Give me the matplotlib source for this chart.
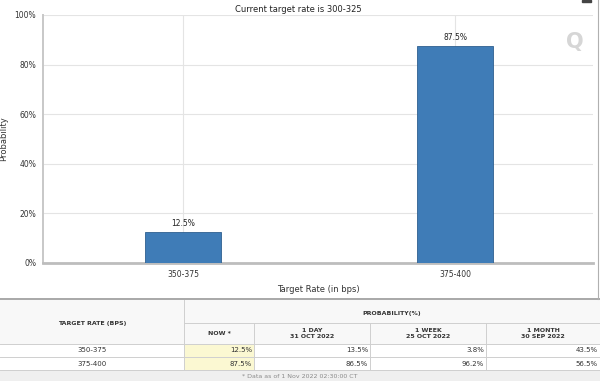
import matplotlib.pyplot as plt
from matplotlib.patches import Rectangle

# data
rates = ['350-375', '375-400']
now = [12.5, 87.5]
one_day = [13.5, 86.5]
one_week = [3.8, 96.2]
one_month = [43.5, 56.5]
col_heads = ['NOW *', '1 DAY\n31 OCT 2022', '1 WEEK\n25 OCT 2022', '1 MONTH\n30 SEP 2022']
yticks = [0, 20, 40, 60, 80, 100]
title = 'Current target rate is 300-325'
footnote = '* Data as of 1 Nov 2022 02:30:00 CT'

W, H = 600, 381
fig = plt.figure(figsize=(6, 3.81), dpi=100)

# pixel-space layer for frame + table
bg = fig.add_axes([0, 0, 1, 1], zorder=0)
bg.set_xlim(0, W)
bg.set_ylim(H, 0)
bg.axis('off')

ax = fig.add_axes([43 / W, 1 - 263 / H, 550 / W, 248 / H], zorder=1)
ax.patch.set_alpha(0)

x = list(range(len(rates)))
ax.bar(x, now, width=0.28, color='#3f7cb7', edgecolor='#2e5f8f', linewidth=0.6, zorder=3)
for i, v in enumerate(now):
    ax.text(i, v + 1.5, f'{v}%', ha='center', va='bottom', fontsize=5.5, color='#222')

ax.set_xlim(-0.515, 1.507)
ax.set_ylim(0, 100)
ax.set_yticks(yticks)
ax.set_yticklabels([f'{t}%' for t in yticks])
ax.set_xticks(x)
ax.set_xticklabels(rates)
ax.tick_params(axis='both', length=0, labelsize=5.5, labelcolor='#333')
ax.tick_params(axis='y', pad=5)
ax.tick_params(axis='x', pad=5)
ax.grid(True, color='#e4e4e4', lw=0.8, zorder=0)
for s in ['top', 'right']:
    ax.spines[s].set_visible(False)
ax.spines['left'].set_color('#c8c8c8')
ax.spines['left'].set_linewidth(1.4)
ax.spines['bottom'].set_color('#bdbdbd')
ax.spines['bottom'].set_linewidth(2)
ax.set_xlabel('Target Rate (in bps)', fontsize=6, color='#333', labelpad=4)
ax.set_ylabel('Probability', fontsize=6, color='#333')
ax.yaxis.set_label_coords(-0.064, 0.5)

fig.text(298 / W, 1 - 9 / H, title, ha='center', va='center', fontsize=6, color='#222')
# watermark Q and menu icon
bg.text(575, 42, 'Q', ha='center', va='center', fontsize=15, fontweight='bold', color='#d6d6d6')
bg.add_patch(Rectangle((582, 0), 9, 2, color='#444'))

# frame
bg.plot([0, W], [298.5, 298.5], color='#9a9a9a', lw=1.2)
bg.plot([598, 598], [0, 298.5], color='#b0b0b0', lw=0.8)

# table
edges = [0, 184, 254, 370, 486, 600]
rows = [344, 357, 370]
bg.add_patch(Rectangle((0, 300), W, 44, color='#f8f8f8', lw=0))
bg.add_patch(Rectangle((0, 370), W, 11, color='#efefef', lw=0))
bg.add_patch(Rectangle((edges[1], 344), edges[2] - edges[1], 26, color='#fbf8d2', lw=0))
lc = '#cfcfcf'
bg.plot([edges[1], W], [323, 323], color=lc, lw=0.7)
for y in rows:
    bg.plot([0, W], [y, y], color=lc, lw=0.7)
bg.plot([edges[1], edges[1]], [300, 370], color=lc, lw=0.7)
for e in edges[2:5]:
    bg.plot([e, e], [323, 370], color=lc, lw=0.7)

hfont = dict(fontsize=4.5, fontweight='bold', color='#333', ha='center', va='center')
bg.text(edges[1] / 2, 323, 'TARGET RATE (BPS)', **hfont)
bg.text((edges[1] + W) / 2, 313, 'PROBABILITY(%)', **hfont)
for j, h in enumerate(col_heads):
    bg.text((edges[j + 1] + edges[j + 2]) / 2, 333.5, h, linespacing=1.5, **hfont)

cols = [now, one_day, one_week, one_month]
row_y = [350.5, 363.5]
for i, r in enumerate(rates):
    yc = row_y[i]
    bg.text(edges[1] / 2, yc, r, fontsize=5, color='#333', ha='center', va='center')
    for j, c in enumerate(cols):
        bg.text(edges[j + 2] - 2, yc, f'{c[i]}%', fontsize=5, color='#333', ha='right', va='center')

bg.text(300, 376, footnote, fontsize=4.5, color='#8a8a8a', ha='center', va='center')

fig.savefig('out.png', dpi=100)
